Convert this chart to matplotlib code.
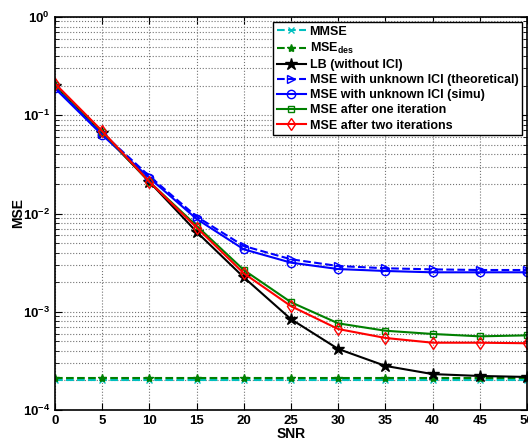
import matplotlib
matplotlib.use('Agg')
import matplotlib.pyplot as plt
import matplotlib.ticker as mticker
import numpy as np

plt.rcParams['font.family'] = ['Liberation Sans', 'DejaVu Sans']
plt.rcParams['font.weight'] = 'bold'
plt.rcParams['mathtext.fontset'] = 'custom'
plt.rcParams['mathtext.rm'] = 'Liberation Sans:bold'
plt.rcParams['mathtext.bf'] = 'Liberation Sans:bold'

snr = [0, 5, 10, 15, 20, 25, 30, 35, 40, 45, 50]
mmse = [2.02e-4] * 11
mse_des = [2.14e-4] * 11
lb = [0.200, 0.066, 0.021, 0.0065, 0.00224, 0.00084, 0.000418, 0.000281, 0.000232, 0.000222, 0.000217]
theo = [0.195, 0.066, 0.024, 0.0093, 0.00467, 0.00342, 0.00292, 0.00277, 0.00270, 0.00266, 0.00266]
simu = [0.188, 0.063, 0.023, 0.0088, 0.00432, 0.00316, 0.00272, 0.00260, 0.00252, 0.00252, 0.00252]
one_it = [0.205, 0.068, 0.021, 0.0075, 0.00266, 0.00125, 0.000762, 0.000641, 0.000594, 0.000562, 0.000575]
two_it = [0.210, 0.069, 0.021, 0.0072, 0.00246, 0.00114, 0.000667, 0.000541, 0.000484, 0.000484, 0.000478]

fig = plt.figure(figsize=(5.28, 4.46), dpi=100)
ax = fig.add_axes([55/528, 36/446, 472/528, 393/446])

cyan = (0, 0.75, 0.75)
green = (0, 0.5, 0)
lw = 1.5
ax.semilogy(snr, mmse, '--', color=cyan, marker='x', ms=5, lw=lw, label='MMSE')
ax.semilogy(snr, mse_des, '--', color=green, marker='*', ms=6, lw=lw, label=r'MSE$_{\mathbf{des}}$')
ax.semilogy(snr, lb, '-', color='k', marker='*', ms=9, lw=lw, label='LB (without ICI)')
ax.semilogy(snr, theo, '--', color='b', marker='>', ms=6, mfc='none', lw=lw,
            label='MSE with unknown ICI (theoretical)')
ax.semilogy(snr, simu, '-', color='b', marker='o', ms=6, mfc='none', lw=lw,
            label='MSE with unknown ICI (simu)')
ax.semilogy(snr, one_it, '-', color=green, marker='s', ms=5, mfc='none', lw=lw,
            label='MSE after one iteration')
ax.semilogy(snr, two_it, '-', color='r', marker='d', ms=6, mfc='none', lw=lw,
            label='MSE after two iterations')

ax.set_xlim(0, 50)
ax.set_ylim(1e-4, 1)
ax.set_xticks(range(0, 51, 5))
ax.yaxis.set_major_locator(mticker.LogLocator(base=10, numticks=10))
ax.yaxis.set_minor_locator(mticker.LogLocator(base=10, subs=np.arange(2, 10), numticks=10))
ax.yaxis.set_minor_formatter(mticker.NullFormatter())
ax.yaxis.set_major_formatter(mticker.FuncFormatter(lambda v, p: r'$\mathbf{10^{%d}}$' % round(np.log10(v))))

ax.grid(True, which='major', linestyle=':', color='0.45', lw=0.8)
ax.grid(True, which='minor', axis='y', linestyle=':', color='0.45', lw=0.8)
ax.tick_params(which='both', direction='in', top=True, right=True, labelsize=9.5)
ax.tick_params(which='major', length=5)
ax.tick_params(which='minor', length=3)
for s in ax.spines.values():
    s.set_linewidth(1.2)

ax.set_xlabel('SNR', fontsize=10, fontweight='bold', labelpad=0)
ax.set_ylabel('MSE', fontsize=10, fontweight='bold')
ax.yaxis.set_label_coords(-0.063, 0.5)

leg = ax.legend(loc='upper right', fontsize=9, handlelength=2.3, handletextpad=0.3,
                borderaxespad=0.4, labelspacing=0.25, fancybox=False, framealpha=1,
                borderpad=0.3)
leg.get_frame().set_edgecolor('k')
leg.get_frame().set_linewidth(1.0)

fig.savefig('out.png', dpi=100)
